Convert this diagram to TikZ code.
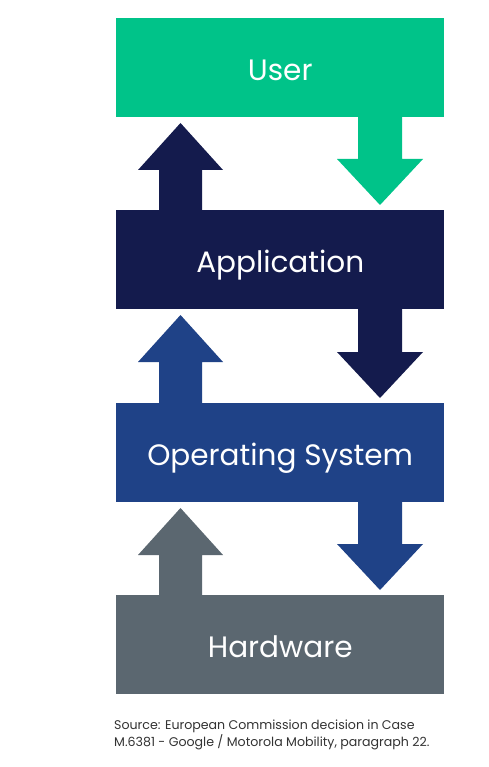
\documentclass[tikz,border=0pt]{standalone}
\usepackage{fontspec}
\setmainfont{Poppins}
\definecolor{cgreen}{HTML}{00C389}
\definecolor{cnavy}{HTML}{141B4D}
\definecolor{cblue}{HTML}{1F4287}
\definecolor{cgrey}{HTML}{5B6770}
\definecolor{ctext}{HTML}{333333}
\begin{document}
\begin{tikzpicture}[x=1pt,y=-1pt,
  layer/.style={fill=#1, draw=none, minimum width=328pt, minimum height=99pt, inner sep=0pt, text=white, text height=25pt, text depth=0pt, font=\fontsize{29.5}{34}\selectfont},
]
\useasboundingbox (0,0) rectangle (488,767);
\fill[white] (0,0) rectangle (488,767);
% arrows
\newcommand{\downarr}[3]{% colour, top y, next-box top y
  \fill[#1] (358,#2) -- (402,#2) -- (402,#3-51) -- (423,#3-51) -- (380,#3-5) -- (337,#3-51) -- (358,#3-51) -- cycle;}
\newcommand{\uparr}[3]{% colour, box top y, prev-box bottom y
  \fill[#1] (159,#2) -- (202,#2) -- (202,#3+53) -- (223,#3+53) -- (180.5,#3+6) -- (138,#3+53) -- (159,#3+53) -- cycle;}
\downarr{cgreen}{110}{210}
\uparr{cnavy}{215}{117}
\downarr{cnavy}{302}{403}
\uparr{cblue}{408}{309}
\downarr{cblue}{495}{595}
\uparr{cgrey}{600}{502}
\node[layer=cgreen, anchor=north west] (user) at (116,18) {User};
\node[layer=cnavy, anchor=north west] (app) at (116,210) {Application};
\node[layer=cblue, anchor=north west] (os) at (116,403) {Operating System};
\node[layer=cgrey, anchor=north west] (hw) at (116,595) {Hardware};
\node[anchor=north west, align=left, inner sep=0pt, text=ctext, font=\fontsize{12.6}{17}\selectfont] (src) at (114,720) {Source: European Commission decision in Case\\M.6381 - Google / Motorola Mobility, paragraph 22.};
\end{tikzpicture}
\end{document}
